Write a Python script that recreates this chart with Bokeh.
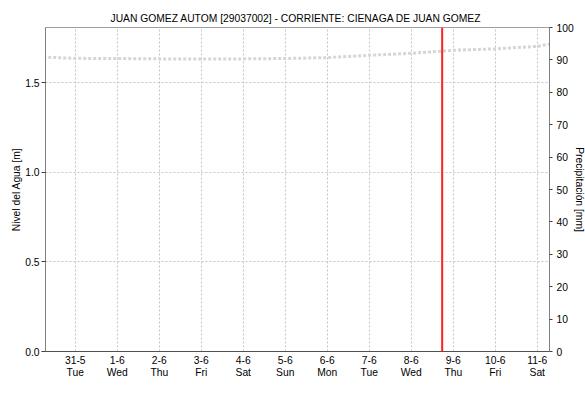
import pandas as pd
from bokeh.plotting import figure
from bokeh.models import (Range1d, LinearAxis, FixedTicker, Span, Legend,
                          LegendItem, ColumnDataSource, NumeralTickFormatter)
from bokeh.embed import file_html
from bokeh.resources import INLINE

# ---------------- data ----------------
title_text = "JUAN GOMEZ AUTOM  [29037002] - CORRIENTE: CIENAGA DE JUAN GOMEZ"

hist_dates = ["2022-05-30", "2022-05-31", "2022-06-01", "2022-06-02", "2022-06-03",
              "2022-06-04", "2022-06-05", "2022-06-06", "2022-06-07", "2022-06-08",
              "2022-06-09", "2022-06-10", "2022-06-11", "2022-06-12"]
hist_level = [1.644, 1.635, 1.634, 1.632, 1.632, 1.632, 1.634, 1.639, 1.652, 1.663,
              1.680, 1.688, 1.702, 1.745]

sensor_dates = []
sensor_level = []

precip_dates = ["2022-05-31", "2022-06-01", "2022-06-02", "2022-06-03", "2022-06-04",
                "2022-06-05", "2022-06-06", "2022-06-07", "2022-06-08"]
precip_obs = [0, 0, 0, 0, 0, 0, 0, 0, 0]
precip_pro = [0, 0, 0, 0, 0, 0, 0, 0, 0]

tick_dates = ["2022-05-31", "2022-06-01", "2022-06-02", "2022-06-03", "2022-06-04",
              "2022-06-05", "2022-06-06", "2022-06-07", "2022-06-08", "2022-06-09",
              "2022-06-10", "2022-06-11"]
tick_day_labels = ["31-5", "1-6", "2-6", "3-6", "4-6", "5-6",
                   "6-6", "7-6", "8-6", "9-6", "10-6", "11-6"]
tick_weekdays = ["Tue", "Wed", "Thu", "Fri", "Sat", "Sun",
                 "Mon", "Tue", "Wed", "Thu", "Fri", "Sat"]

now_time = "2022-06-08 17:40"
x_start = "2022-05-30 07:00"
x_end = "2022-06-11 07:00"
level_max = 1.807
precip_max = 100
level_ticks = [0.0, 0.5, 1.0, 1.5]
precip_ticks = [0, 10, 20, 30, 40, 50, 60, 70, 80, 90, 100]


def ms(values):
    return [int(v) for v in (pd.to_datetime(values).astype("int64") // 10**6)]


FONT = "Liberation Sans"
FS = "10.3px"
DAY = 86400000

p = figure(frame_width=504, frame_height=324, output_backend="svg", toolbar_location=None,
           x_range=Range1d(ms([x_start])[0], ms([x_end])[0]),
           y_range=Range1d(0, level_max),
           min_border_left=45, min_border_right=36, min_border_top=27,
           min_border_bottom=50)
p.extra_y_ranges = {"precip": Range1d(0, precip_max)}

p.title.text = title_text
p.title.align = "center"
p.title.text_font = FONT
p.title.text_font_size = FS
p.title.text_font_style = "normal"
p.title.text_color = "#000000"
p.title.offset = 0
p.title.standoff = 8

p.outline_line_color = "#a0a0a0"
p.background_fill_color = "white"
p.border_fill_color = "white"

# grid
p.xgrid.ticker = FixedTicker(ticks=ms(tick_dates))
p.xgrid.grid_line_color = "#c4c4c4"
p.xgrid.grid_line_dash = "2 2"
p.ygrid.ticker = FixedTicker(ticks=level_ticks[1:])
p.ygrid.grid_line_color = "#c4c4c4"
p.ygrid.grid_line_dash = "2 2"

# x axis: day-month row
xa = p.xaxis[0]
xa.axis_label = None
xa.ticker = FixedTicker(ticks=ms(tick_dates))
xa.major_label_overrides = {k: v for k, v in zip(ms(tick_dates), tick_day_labels)}
xa.major_tick_line_color = None
xa.minor_tick_line_color = None
xa.major_tick_out = 0
xa.major_tick_in = 0
xa.axis_line_color = "#000000"
xa.axis_line_dash = "1 1"
xa.major_label_text_font = FONT
xa.major_label_text_font_size = FS
xa.major_label_text_color = "#000000"
xa.major_label_standoff = 4

# x axis: weekday row
xa2 = LinearAxis(ticker=FixedTicker(ticks=ms(tick_dates)))
xa2.major_label_overrides = {k: v for k, v in zip(ms(tick_dates), tick_weekdays)}
xa2.axis_line_color = None
xa2.major_tick_line_color = None
xa2.minor_tick_line_color = None
xa2.major_tick_out = 0
xa2.major_tick_in = 0
xa2.major_label_text_font = FONT
xa2.major_label_text_font_size = FS
xa2.major_label_text_color = "#000000"
xa2.major_label_standoff = 0
p.add_layout(xa2, "below")

# left axis
ya = p.yaxis[0]
ya.ticker = FixedTicker(ticks=level_ticks)
ya.formatter = NumeralTickFormatter(format="0.0")
ya.axis_label = "Nivel del Agua [m]"
ya.axis_label_text_font = FONT
ya.axis_label_text_font_size = FS
ya.axis_label_text_font_style = "normal"
ya.axis_label_text_color = "#000000"
ya.axis_label_standoff = 0
ya.major_label_text_font = FONT
ya.major_label_text_font_size = FS
ya.major_label_text_color = "#000000"
ya.major_label_standoff = 2
ya.major_tick_out = 4
ya.major_tick_in = 0
ya.minor_tick_line_color = None
ya.axis_line_color = "#808080"
ya.major_tick_line_color = "#404040"

# right axis
ra = LinearAxis(y_range_name="precip", ticker=FixedTicker(ticks=precip_ticks),
                axis_label="Precipitación [mm]")
ra.axis_label_text_font = FONT
ra.axis_label_text_font_size = FS
ra.axis_label_text_font_style = "normal"
ra.axis_label_text_color = "#000000"
ra.axis_label_standoff = -3
ra.major_label_text_font = FONT
ra.major_label_text_font_size = FS
ra.major_label_text_color = "#000000"
ra.major_label_standoff = 4
ra.major_tick_out = 3
ra.major_tick_in = 0
ra.minor_tick_line_color = None
ra.axis_line_color = "#808080"
ra.major_tick_line_color = "#404040"
p.add_layout(ra, "right")

# glyphs
src_hist = ColumnDataSource(dict(x=ms(hist_dates), y=hist_level))
src_sensor = ColumnDataSource(dict(x=ms(sensor_dates) if sensor_dates else [], y=sensor_level))
src_prec = ColumnDataSource(dict(x=ms(precip_dates), obs=precip_obs, pro=precip_pro))

r_obs = p.vbar(x="x", top="obs", width=0.4 * DAY, source=src_prec, y_range_name="precip",
               fill_color="#5ef2f2", line_color=None)
r_pro = p.vbar(x="x", top="pro", width=0.4 * DAY, source=src_prec, y_range_name="precip",
               fill_color="#3ec6c6", line_color=None)
r_hist = p.line(x="x", y="y", source=src_hist, line_color="#d6d6d6", line_width=3,
                line_dash="3 2")
r_sensor = p.line(x="x", y="y", source=src_sensor, line_color="#0000ff", line_width=1.5)

p.add_layout(Span(location=ms([now_time])[0], dimension="height",
                  line_color="#ff2020", line_width=2))

legend = Legend(items=[
    LegendItem(label="Nivel Sensor", renderers=[r_sensor]),
    LegendItem(label="Nivel Medio Historico", renderers=[r_hist]),
    LegendItem(label="Precipitación Media Obs", renderers=[r_obs]),
    LegendItem(label="Precipitación Media Pro", renderers=[r_pro]),
], orientation="horizontal", location="top_center")
legend.label_text_font = FONT
legend.label_text_font_size = FS
legend.label_text_color = "#000000"
legend.label_standoff = 4
legend.spacing = 6
legend.glyph_width = 14
legend.glyph_height = 11
legend.label_height = 11
legend.padding = 2
legend.margin = 4
legend.border_line_color = None
legend.background_fill_alpha = 0
p.add_layout(legend, "below")

open("out.html", "w").write(file_html(p, INLINE))
